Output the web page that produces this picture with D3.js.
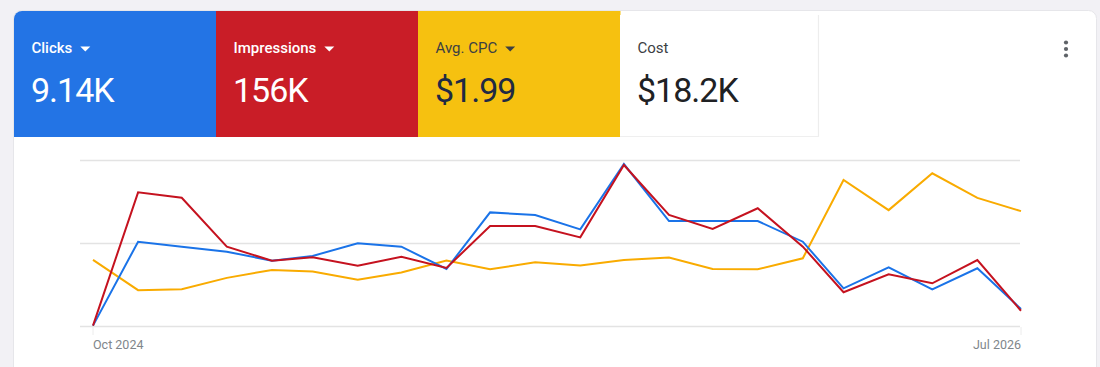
<!DOCTYPE html>
<html>
<head>
<meta charset="utf-8">
<script src="https://cdn.jsdelivr.net/npm/d3@7"></script>
<style>
  html, body { margin: 0; padding: 0; background: #f2f1f5; }
  svg { display: block; font-family: Roboto, "Noto Sans", sans-serif; }
</style>
</head>
<body>
<svg id="chart" width="1100" height="367"></svg>
<script>
// ---- data ----
const months = ["2024-10","2024-11","2024-12","2025-01","2025-02","2025-03","2025-04","2025-05","2025-06","2025-07","2025-08","2025-09","2025-10","2025-11","2025-12","2026-01","2026-02","2026-03","2026-04","2026-05","2026-06","2026-07"];
const clicks = [2, 457, 430, 403, 354, 380, 448, 430, 309, 616, 602, 524, 878, 569, 569, 569, 457, 204, 318, 199, 313, 92];
const impressions = [40, 12080, 11590, 7170, 5900, 6210, 5450, 6260, 5240, 9040, 9040, 8010, 14550, 10030, 8770, 10640, 7170, 3050, 4670, 3860, 5960, 1380];
const avgCpc = [1.99, 1.08, 1.11, 1.45, 1.69, 1.64, 1.39, 1.61, 1.97, 1.71, 1.92, 1.82, 1.99, 2.06, 1.72, 1.71, 2.04, 4.40, 3.49, 4.60, 3.86, 3.46];
const tickMonths = ["2024-10", "2026-07"];
const tickLabels = ["Oct 2024", "Jul 2026"];
const clicksGrid = [0, 450, 900];
const metricNames = ["Clicks", "Impressions", "Avg. CPC", "Cost"];
const metricValues = ["9.14K", "156K", "$1.99", "$18.2K"];
const clicksMax = 900, impressionsMax = 15000, cpcMax = 5;

// ---- drawing ----
const svg = d3.select("#chart");

// card
svg.append("rect").attr("x", 13.5).attr("y", 10.5).attr("width", 1083).attr("height", 380)
  .attr("rx", 8).attr("fill", "#ffffff").attr("stroke", "#e6e6ea");

// metric tiles
const tileX = d3.scaleBand().domain(metricNames).range([14, 822]).paddingInner(0).paddingOuter(0);
const tileFill = ["#2374e5", "#c91d27", "#f6c110", "#ffffff"];
const labelFill = ["#ffffff", "#ffffff", "#3c4043", "#3c4043"];
const valueFill = ["#ffffff", "#ffffff", "#202a44", "#202124"];
const labelWeight = [500, 500, 400, 400];
const dropdown = [true, true, true, false];

const defs = svg.append("defs");
defs.append("clipPath").attr("id", "cardClip")
  .append("rect").attr("x", 14).attr("y", 11).attr("width", 1082).attr("height", 400).attr("rx", 8);

const tiles = svg.append("g").attr("clip-path", "url(#cardClip)");
metricNames.forEach((name, i) => {
  const x0 = tileX(name);
  const w = tileX.bandwidth();
  if (i === 3) {
    tiles.append("rect").attr("x", x0).attr("y", 15).attr("width", w - 4).attr("height", 122)
      .attr("fill", "#fff");
    tiles.append("line").attr("x1", x0 + w - 3.5).attr("x2", x0 + w - 3.5).attr("y1", 15).attr("y2", 137)
      .attr("stroke", "#ededed").attr("stroke-width", 1.2);
    tiles.append("line").attr("x1", x0).attr("x2", x0 + w - 3).attr("y1", 136.5).attr("y2", 136.5)
      .attr("stroke", "#efefef").attr("stroke-width", 1.2);
  } else {
    tiles.append("rect").attr("x", x0).attr("y", 10).attr("width", w + 0.5).attr("height", 127)
      .attr("fill", tileFill[i]);
  }
  const lbl = tiles.append("text").attr("x", x0 + 17.5).attr("y", 53)
    .attr("font-size", 15).attr("font-weight", labelWeight[i]).attr("fill", labelFill[i])
    .text(name);
  if (dropdown[i]) {
    const lw = lbl.node().getComputedTextLength();
    const tx = x0 + 17.5 + lw + 8;
    tiles.append("path").attr("d", `M${tx},46.5 L${tx + 10},46.5 L${tx + 5},51.5 Z`).attr("fill", labelFill[i]);
  }
  tiles.append("text").attr("x", x0 + 17).attr("y", 101.5)
    .attr("font-size", 34).attr("letter-spacing", -1).attr("fill", valueFill[i])
    .text(metricValues[i]);
});

// kebab
[42.5, 49, 55.5].forEach(cy => {
  svg.append("circle").attr("cx", 1066).attr("cy", cy).attr("r", 2.1).attr("fill", "#5f6368");
});

// chart
const parse = d3.timeParse("%Y-%m");
const dates = months.map(parse);
const x = d3.scaleTime().domain(d3.extent(dates)).range([93, 1021]);
const yClicks = d3.scaleLinear().domain([0, clicksMax]).range([326, 160]);
const yImpr = d3.scaleLinear().domain([0, impressionsMax]).range([326, 160]);
const yCpc = d3.scaleLinear().domain([0, cpcMax]).range([326, 160]);

// gridlines
const grid = svg.append("g");
clicksGrid.forEach(t => {
  const gy = Math.round(yClicks(t)) + 0.5;
  grid.append("line").attr("x1", 80).attr("x2", 1020)
    .attr("y1", gy).attr("y2", gy)
    .attr("stroke", "#e3e3e3").attr("stroke-width", 1.3);
});

// x axis ticks and labels
const xAxis = svg.append("g");
tickMonths.forEach((m, i) => {
  const px = x(parse(m));
  xAxis.append("line").attr("x1", px).attr("x2", px).attr("y1", 327).attr("y2", 335)
    .attr("stroke", "#ececec").attr("stroke-width", 1);
  xAxis.append("text").attr("x", px).attr("y", 349)
    .attr("text-anchor", i === 0 ? "start" : "end")
    .attr("font-size", 12.5).attr("fill", "#80868b").text(tickLabels[i]);
});

const mk = (vals, y) => d3.line().x((d, i) => x(dates[i])).y(d => y(d))(vals);
const series = [
  { vals: avgCpc, y: yCpc, color: "#f9ab00" },
  { vals: clicks, y: yClicks, color: "#1a73e8" },
  { vals: impressions, y: yImpr, color: "#c5121f" }
];
series.forEach(s => {
  svg.append("path").attr("d", mk(s.vals, s.y)).attr("fill", "none")
    .attr("stroke", s.color).attr("stroke-width", 2).attr("stroke-linejoin", "miter");
});
</script>
</body>
</html>
